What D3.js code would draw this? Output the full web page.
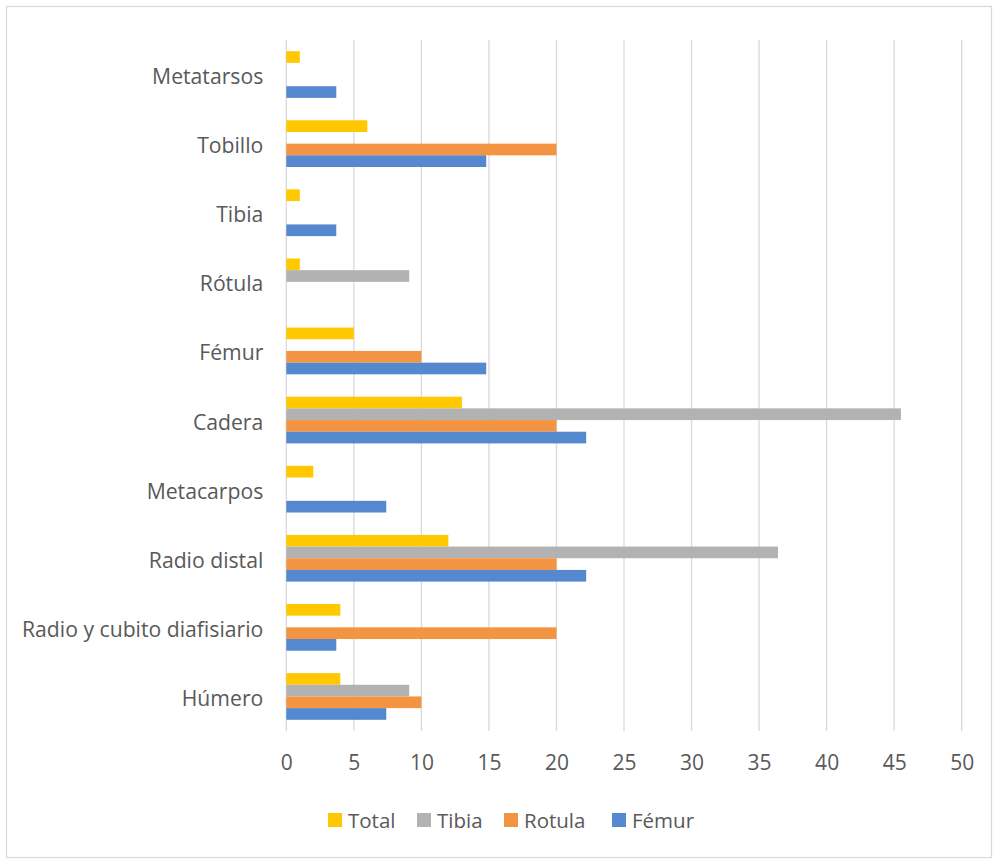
<!DOCTYPE html>
<html><head><meta charset="utf-8">
<script src="https://cdn.jsdelivr.net/npm/d3@7"></script>
<style>body{margin:0;background:#fff}svg{display:block}</style>
</head><body>
<svg id="c" width="994" height="860"></svg>
<script>
const categories = ["Húmero","Radio y cubito diafisiario","Radio distal","Metacarpos","Cadera","Fémur","Rótula","Tibia","Tobillo","Metatarsos"];
const femur  = [7.4, 3.7, 22.2, 7.4, 22.2, 14.8, 0, 3.7, 14.8, 3.7];
const rotula = [10, 20, 20, 0, 20, 10, 0, 0, 20, 0];
const tibia  = [9.1, 0, 36.4, 0, 45.5, 0, 9.1, 0, 0, 0];
const total  = [4, 4, 12, 2, 13, 5, 1, 1, 6, 1];
const seriesNames = ["Total","Tibia","Rotula","Fémur"];
const seriesValues = [total, tibia, rotula, femur];
const colors = ["#FFC800","#B2B2B2","#F29442","#5588CF"];
const xTicks = [0,5,10,15,20,25,30,35,40,45,50];

const svg = d3.select("#c");
const font = "'Open Sans', sans-serif";
svg.append("rect").attr("x",6.5).attr("y",6.5).attr("width",985).attr("height",851)
  .attr("fill","#fff").attr("stroke","#d9d9d9").attr("stroke-width",1.2);

const L=286.3, R=961.7, T=40, B=731;
const x = d3.scaleLinear().domain([0,50]).range([L,R]);
const y = d3.scaleBand().domain(categories.slice().reverse()).range([T,B]).paddingInner(0.324).paddingOuter(0.162);
const ys = d3.scaleBand().domain(seriesNames).range([0,y.bandwidth()]);

// gridlines
svg.append("g").selectAll("line").data(xTicks).join("line")
  .attr("x1",d=>x(d)).attr("x2",d=>x(d)).attr("y1",T).attr("y2",B)
  .attr("stroke","#d9d9d9").attr("stroke-width",1.3);

// x axis labels
const xa = svg.append("g").attr("transform",`translate(0,${B})`)
  .call(d3.axisBottom(x).tickValues(xTicks).tickSize(0).tickPadding(24).tickFormat(d3.format("d")));
xa.select(".domain").remove();
xa.selectAll("text").attr("font-family",font).attr("font-size",21).attr("fill","#595959");

// bars
seriesNames.forEach((s,si)=>{
  svg.append("g").selectAll("rect").data(categories.map((c,i)=>({c,v:seriesValues[si][i]})))
    .join("rect")
    .attr("x",x(0)).attr("y",d=>y(d.c)+ys(s))
    .attr("width",d=>x(d.v)-x(0)).attr("height",ys.bandwidth())
    .attr("fill",colors[si]);
});

// y axis labels
const ya = svg.append("g").attr("transform",`translate(${L},0)`)
  .call(d3.axisLeft(y).tickSize(0).tickPadding(23));
ya.select(".domain").remove();
ya.selectAll("text").attr("font-family",font).attr("font-size",21.2).attr("fill","#595959").attr("dy","0.45em");

// legend
const legX = [328,417,504,612];
const lg = svg.append("g");
seriesNames.forEach((s,i)=>{
  lg.append("rect").attr("x",legX[i]).attr("y",813).attr("width",14).attr("height",14).attr("fill",colors[i]);
  lg.append("text").attr("x",legX[i]+20).attr("y",821).attr("dy","0.35em")
    .attr("font-family",font).attr("font-size",20.5).attr("fill","#595959").text(s);
});
</script>
</body></html>
